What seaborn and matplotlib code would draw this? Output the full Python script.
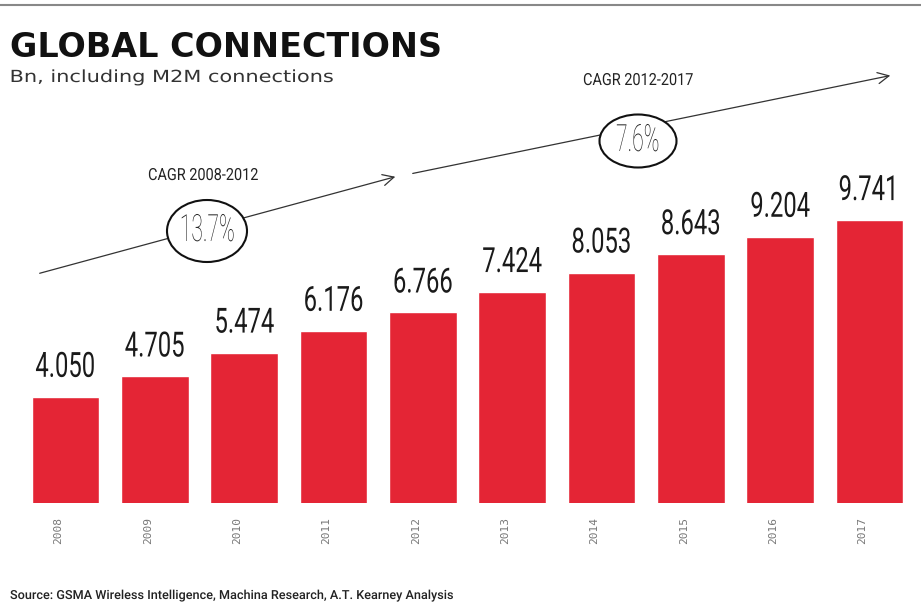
import matplotlib
matplotlib.use("Agg")
import matplotlib.pyplot as plt
import seaborn as sns
import pandas as pd
from matplotlib.patches import Ellipse, FancyArrowPatch
from matplotlib.transforms import ScaledTranslation, Affine2D
from matplotlib.patheffects import AbstractPathEffect
from matplotlib import font_manager

# ---- data ----
years = ["2008", "2009", "2010", "2011", "2012", "2013", "2014", "2015", "2016", "2017"]
connections = [4.050, 4.705, 5.474, 6.176, 6.766, 7.424, 8.053, 8.643, 9.204, 9.741]
value_labels = ["4.050", "4.705", "5.474", "6.176", "6.766", "7.424", "8.053", "8.643", "9.204", "9.741"]
title = "GLOBAL CONNECTIONS"
subtitle = "Bn, including M2M connections"
source = "Source: GSMA Wireless Intelligence, Machina Research, A.T. Kearney Analysis"
cagr_labels = ["CAGR 2008-2012", "CAGR 2012-2017"]
cagr_values = ["13.7%", "7.6%"]

sns.set_theme(style="white")
plt.rcParams['font.family'] = ['DejaVu Sans']

fams = {}
for f in font_manager.fontManager.ttflist:
    fams.setdefault(f.name, set()).add(f.weight)
thin_family = "Roboto" if "Roboto" in fams else "DejaVu Sans"
thin_weight = "light" if any(w in (300, "light") for w in fams.get(thin_family, [])) else "normal"


class Squash(AbstractPathEffect):
    """Horizontal scaling of glyph outlines (condensed look)."""
    def __init__(self, sx, anchor="center"):
        super().__init__()
        self.sx = sx
        self.anchor = anchor

    def draw_path(self, renderer, gc, tpath, affine, rgbFace=None):
        ext = tpath.get_extents()
        cx = ext.x0 if self.anchor == "left" else (ext.x0 + ext.x1) / 2
        t = Affine2D().translate(-cx, 0).scale(self.sx, 1).translate(cx, 0) + affine
        renderer.draw_path(gc, tpath, t, rgbFace)


W, H = 921, 603
fig = plt.figure(figsize=(W / 100, H / 100), dpi=100)
fig.patch.set_facecolor("white")
renderer = fig.canvas.get_renderer()


def fx(px):
    return px / W


def fy(py):
    return 1 - py / H


def fit(texts, target_px, anchor="center"):
    """squash the group so that the first text gets target width in pixels"""
    w = texts[0].get_window_extent(renderer).width
    sx = target_px / w
    for t in texts:
        t.set_path_effects([Squash(sx, anchor)])


# axes: x pixels 20..915, y pixels 60..503
ax = fig.add_axes([fx(20), fy(503), fx(915) - fx(20), (503 - 60) / H])
df = pd.DataFrame({"year": years, "value": connections})
sns.barplot(data=df, x="year", y="value", color="#E42535", saturation=1,
            width=0.76, ax=ax)
ax.set_xlim(-0.51, 9.51)
ax.set_ylim(0.63, 0.63 + 443 / 31.05)
ax.set_xlabel("")
ax.set_ylabel("")
ax.set_yticks([])
for s in ax.spines.values():
    s.set_visible(False)

vtexts = []
for p, lab in zip(ax.patches, value_labels):
    t = ax.annotate(lab, (p.get_x() + p.get_width() / 2, p.get_y() + p.get_height()),
                    xytext=(0, 14.4), textcoords="offset points", ha="center", va="baseline",
                    fontsize=25, family=thin_family, fontweight="normal", color="#1a1a1a")
    vtexts.append(t)
fit(vtexts, 60)

ax.tick_params(axis="x", length=0, pad=10)
off = ScaledTranslation(-7 / 100, 0, fig.dpi_scale_trans)
for lab in ax.get_xticklabels():
    lab.set_rotation(90)
    lab.set_fontfamily("DejaVu Sans Mono")
    lab.set_fontsize(8)
    lab.set_color("#777777")
    lab.set_va("top")
    lab.set_transform(lab.get_transform() + off)

# top rule
fig.add_artist(plt.Line2D([0, 1], [fy(5), fy(5)], color="#888888", lw=1.5,
                          transform=fig.transFigure))

# titles
fig.text(fx(10), fy(57), title, fontsize=24, fontweight="bold", color="#111111",
         va="baseline", ha="left")
st = fig.text(fx(10), fy(82), subtitle, fontsize=12, color="#333333",
              va="baseline", ha="left")
fit([st], 323, anchor="left")
src = fig.text(fx(10), fy(599), source, fontsize=9, color="#222222",
               family=["Roboto", "DejaVu Sans"], fontweight="medium",
               va="baseline", ha="left")
fit([src], 443, anchor="left")

# CAGR arrows
arrows = [((37, 274), (398, 176)), ((410, 174), (893, 75))]
circles = [((207, 231), 80, 62), ((638, 141), 77, 53)]
label_pos = [(203, 180), (638, 85)]
ptexts, ltexts = [], []
for (p0, p1), ((cx, cy), w, h), (lx, ly), lab, val in zip(arrows, circles, label_pos,
                                                          cagr_labels, cagr_values):
    arr = FancyArrowPatch((fx(p0[0]), fy(p0[1])), (fx(p1[0]), fy(p1[1])),
                          transform=fig.transFigure,
                          arrowstyle="->,head_length=8,head_width=4",
                          color="#333333", lw=0.9, mutation_scale=1)
    fig.add_artist(arr)
    e = Ellipse((fx(cx), fy(cy)), w / W, h / H, transform=fig.transFigure,
                facecolor="white", edgecolor="#111111", lw=1.5, zorder=5)
    fig.add_artist(e)
    ptexts.append(fig.text(fx(cx), fy(cy + 10), val, fontsize=27, family=thin_family,
                           fontweight=thin_weight, color="#222222", ha="center",
                           va="baseline", zorder=6))
    ltexts.append(fig.text(fx(lx), fy(ly), lab, fontsize=12, family=thin_family,
                           color="#222222", ha="center", va="baseline"))
fit(ptexts, 55)
fit(ltexts, 110)

fig.savefig("out.png", dpi=100, facecolor="white")
